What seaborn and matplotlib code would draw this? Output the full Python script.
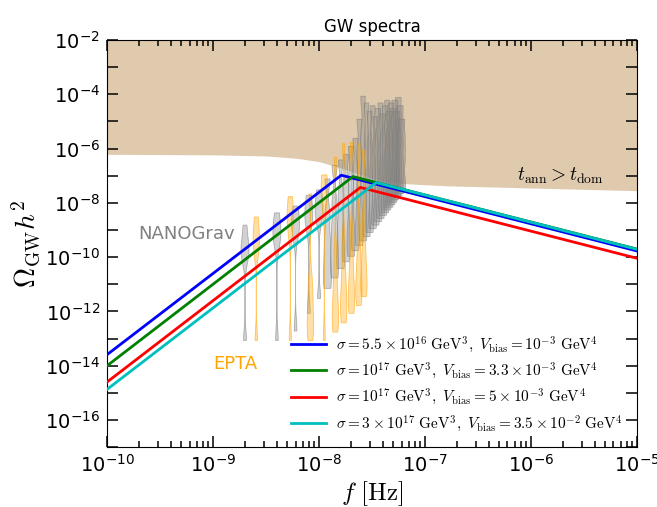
import numpy as np
import matplotlib
matplotlib.use("Agg")
import matplotlib.pyplot as plt
from matplotlib.colors import to_rgba
from matplotlib.ticker import LogLocator, FuncFormatter, NullLocator
import seaborn as sns

plt.rcParams["mathtext.fontset"] = "cm"

# Domain wall spectra: log10 values at f = 1e-10 Hz, at the peak, and at f = 1e-5 Hz
line_colors = ["b", "g", "r", "c"]
line_labels = [
    r"$\sigma = 5.5\times10^{16}\ {\rm GeV}^3,\ V_{\rm bias} = 10^{-3}\ {\rm GeV}^4$",
    r"$\sigma = 10^{17}\ {\rm GeV}^3,\ V_{\rm bias} = 3.3\times10^{-3}\ {\rm GeV}^4$",
    r"$\sigma = 10^{17}\ {\rm GeV}^3,\ V_{\rm bias} = 5\times10^{-3}\ {\rm GeV}^4$",
    r"$\sigma = 3\times10^{17}\ {\rm GeV}^3,\ V_{\rm bias} = 3.5\times10^{-2}\ {\rm GeV}^4$",
]
peak_logf = [-7.79, -7.68, -7.61, -7.46]
peak_logomega = [-6.98, -7.03, -7.43, -7.25]
left_logomega = [-13.59, -14.00, -14.60, -14.87]
right_logomega = [-9.77, -9.70, -10.04, -9.71]

# lower edge of the t_ann > t_dom region
region_logf = [-10.0, -9.0, -8.5, -8.2, -8.0, -7.8, -7.6, -7.4, -7.2, -6.8, -6.0, -5.0]
region_logomega = [-6.21, -6.23, -6.27, -6.36, -6.48, -6.70, -6.97, -7.20, -7.29, -7.37, -7.45, -7.55]

# NANOGrav free spectrum: bin frequencies and read-off quantiles of log10(Omega h^2)
nanograv_freq = [1.98e-9 * k for k in range(1, 31)]
nanograv_samples = [
    [-13.05, -10.0, -9.75, -9.5, -8.8],
    [-13.05, -9.4, -9.15, -8.9, -8.35],
    [-12.7, -9.1, -8.85, -8.6, -8.1],
    [-12.05, -8.8, -8.5, -8.2, -7.7],
    [-11.5, -8.6, -8.3, -8.0, -7.5],
    [-11.13, -10.6, -10.0, -9.3, -8.4, -7.1],
    [-10.75, -10.2, -9.6, -8.9, -8.0, -6.6],
    [-10.4, -9.9, -9.3, -8.6, -7.7, -6.4],
    [-10.15, -9.6, -9.0, -8.3, -7.4, -6.2],
    [-9.95, -9.4, -8.8, -8.0, -7.1, -5.9],
    [-9.74, -9.2, -8.6, -7.8, -6.8, -5.6],
    [-9.55, -9.0, -8.3, -7.4, -6.3, -4.9],
    [-9.38, -8.8, -8.0, -7.0, -5.7, -4.05],
    [-9.22, -8.7, -7.9, -7.0, -5.8, -4.3],
    [-9.07, -8.5, -7.8, -6.9, -5.9, -4.6],
    [-8.93, -8.4, -7.6, -6.7, -5.6, -4.4],
    [-8.8, -8.3, -7.6, -6.8, -5.9, -4.8],
    [-8.67, -8.1, -7.4, -6.6, -5.6, -4.5],
    [-8.55, -8.0, -7.3, -6.4, -5.4, -4.3],
    [-8.44, -7.9, -7.2, -6.5, -5.7, -4.7],
    [-8.34, -7.8, -7.1, -6.3, -5.4, -4.4],
    [-8.24, -7.7, -7.0, -6.2, -5.2, -4.2],
    [-8.14, -7.6, -6.9, -6.2, -5.5, -4.6],
    [-8.05, -7.5, -6.8, -6.0, -5.2, -4.3],
    [-7.96, -7.4, -6.7, -6.0, -5.3, -4.5],
    [-7.87, -7.3, -6.6, -5.8, -5.0, -4.2],
    [-7.79, -7.3, -6.6, -5.9, -5.3, -4.6],
    [-7.71, -7.2, -6.5, -5.7, -4.9, -4.1],
    [-7.64, -7.1, -6.5, -5.8, -5.1, -4.4],
    [-7.56, -7.1, -6.5, -6.0, -5.5, -4.9],
]

# EPTA free spectrum
epta_freq = [2.53e-9, 5.3e-9, 8.2e-9, 1.11e-8, 1.41e-8, 1.69e-8, 2.0e-8, 2.35e-8, 2.62e-8]
epta_samples = [
    [-13.05, -9.8, -9.4, -9.1, -8.5],
    [-13.05, -9.0, -8.6, -8.3, -7.75],
    [-13.05, -12.6, -12.1, -11.5, -10.8, -7.65],
    [-13.05, -7.9, -7.55, -7.3, -6.95],
    [-12.74, -12.4, -12.0, -11.5, -10.8, -9.8, -6.3],
    [-12.4, -12.05, -11.6, -11.1, -10.4, -9.4, -5.8],
    [-12.05, -11.7, -11.3, -10.8, -10.1, -9.1, -5.75],
    [-11.76, -11.4, -11.0, -10.5, -9.8, -8.8, -5.8],
    [-11.43, -11.1, -10.7, -10.2, -9.5, -8.5, -6.05],
]


def draw_violins(ax, freqs, samples, color, width):
    for f, vals in zip(freqs, samples):
        n_before = len(ax.collections)
        sns.violinplot(
            x=[f] * len(vals), y=[10.0 ** v for v in vals], ax=ax,
            native_scale=True, log_scale=True, orient="x",
            width=width, cut=0, bw_adjust=0.35, inner=None,
            color=color, linewidth=0.6,
        )
        for coll in ax.collections[n_before:]:
            coll.set_facecolor(to_rgba(color, 0.35))
            coll.set_edgecolor(to_rgba(color, 0.6))


fig, ax = plt.subplots(figsize=(6.57, 5.07), dpi=100)
fig.subplots_adjust(left=0.163, right=0.9695, bottom=0.118, top=0.921)
ax.set_xscale("log")
ax.set_yscale("log")

ax.fill_between(10.0 ** np.array(region_logf), 10.0 ** np.array(region_logomega), 1e-2,
                color="tan", alpha=0.7, linewidth=0, zorder=0)

draw_violins(ax, nanograv_freq, nanograv_samples, "gray", 0.075)
draw_violins(ax, epta_freq, epta_samples, "orange", 0.06)

handles = []
for i in range(4):
    xs = [1e-10, 10.0 ** peak_logf[i], 1e-5]
    ys = [10.0 ** left_logomega[i], 10.0 ** peak_logomega[i], 10.0 ** right_logomega[i]]
    h, = ax.plot(xs, ys, color=line_colors[i], lw=2, label=line_labels[i], zorder=3)
    handles.append(h)

ax.text(1.96e-10, 10 ** -9.13, "NANOGrav", color="gray", fontsize=13, va="center", ha="left")
ax.text(1.0e-9, 10 ** -13.93, "EPTA", color="orange", fontsize=13, va="center", ha="left")
ax.text(1.9e-6, 10 ** -7.0, r"$t_{\rm ann} > t_{\rm dom}$", fontsize=14, va="center", ha="center")

ax.legend(handles=handles, loc="lower right", frameon=False, fontsize=11,
          bbox_to_anchor=(1.0, -0.001), labelspacing=0.395, handlelength=2.3,
          handletextpad=0.7)

ax.set_xlim(1e-10, 1e-5)
ax.set_ylim(1e-17, 1e-2)

ax.yaxis.set_major_locator(LogLocator(base=10, numticks=30))
ax.yaxis.set_minor_locator(NullLocator())
ax.yaxis.set_major_formatter(FuncFormatter(
    lambda v, pos: r"$\mathdefault{10^{%d}}$" % round(np.log10(v)) if round(np.log10(v)) % 2 == 0 else ""))
ax.xaxis.set_major_locator(LogLocator(base=10, numticks=10))
ax.xaxis.set_minor_locator(LogLocator(base=10, subs=np.arange(2, 10), numticks=20))

ax.tick_params(which="both", direction="in", top=True, right=True, labelsize=14, width=1.1)
ax.tick_params(which="major", length=8, pad=5)
ax.tick_params(which="minor", length=4.5)

ax.set_xlabel(r"$f\ [{\rm Hz}]$", fontsize=18, labelpad=2)
ax.set_ylabel(r"$\Omega_{\rm GW} h^2$", fontsize=20, labelpad=2)
ax.set_title("GW spectra", fontsize=12)

fig.savefig("out.png", dpi=100)
